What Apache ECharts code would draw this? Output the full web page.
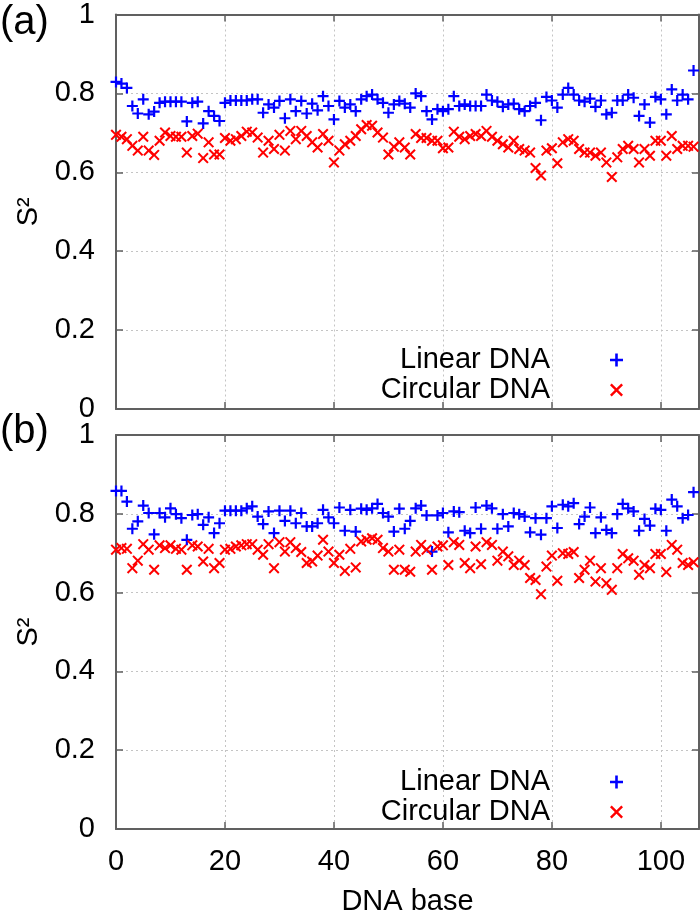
<!DOCTYPE html>
<html><head><meta charset="utf-8">
<script src="https://cdn.jsdelivr.net/npm/echarts@6/dist/echarts.min.js"></script>
<style>html,body{margin:0;padding:0;background:#fff}#c{width:700px;height:921px}</style>
</head><body><div id="c"></div>
<script>
const bases = [0,1,2,3,4,5,6,7,8,9,10,11,12,13,14,15,16,17,18,19,20,21,22,23,24,25,26,27,28,29,30,31,32,33,34,35,36,37,38,39,40,41,42,43,44,45,46,47,48,49,50,51,52,53,54,55,56,57,58,59,60,61,62,63,64,65,66,67,68,69,70,71,72,73,74,75,76,77,78,79,80,81,82,83,84,85,86,87,88,89,90,91,92,93,94,95,96,97,98,99,100,101,102,103,104,105,106];
const linearA = [.829,.825,.814,.768,.749,.785,.747,.754,.776,.779,.779,.779,.779,.729,.776,.779,.724,.755,.743,.730,.776,.782,.782,.782,.782,.785,.785,.751,.772,.764,.781,.737,.785,.755,.781,.749,.774,.757,.793,.768,.734,.781,.764,.772,.755,.785,.793,.797,.785,.776,.751,.772,.781,.774,.764,.800,.793,.755,.734,.760,.755,.760,.793,.768,.772,.768,.768,.768,.797,.782,.779,.766,.772,.774,.760,.755,.768,.776,.732,.791,.782,.764,.797,.814,.797,.782,.779,.787,.766,.782,.747,.751,.782,.782,.797,.789,.743,.772,.726,.791,.785,.747,.810,.782,.797,.785,.858];
const circularA = [.695,.690,.684,.667,.655,.690,.655,.644,.680,.701,.692,.690,.690,.650,.692,.698,.636,.676,.645,.645,.687,.680,.684,.692,.703,.701,.688,.650,.680,.659,.695,.655,.705,.684,.705,.692,.676,.663,.697,.680,.625,.655,.671,.680,.692,.709,.720,.718,.701,.688,.645,.665,.676,.663,.645,.697,.687,.687,.680,.680,.661,.663,.703,.690,.684,.692,.697,.692,.705,.690,.680,.671,.663,.680,.659,.655,.650,.611,.592,.655,.661,.623,.676,.684,.680,.659,.650,.650,.642,.650,.625,.588,.638,.659,.667,.659,.625,.659,.642,.680,.680,.642,.692,.659,.667,.667,.665];
const linearB = [.858,.858,.831,.762,.781,.821,.802,.748,.802,.791,.814,.799,.789,.734,.797,.799,.772,.791,.751,.776,.808,.808,.808,.808,.814,.819,.793,.774,.806,.751,.808,.782,.808,.776,.802,.768,.768,.776,.810,.791,.776,.816,.757,.810,.755,.813,.810,.814,.825,.802,.793,.755,.813,.762,.782,.814,.821,.796,.704,.796,.802,.753,.806,.804,.757,.751,.816,.762,.821,.814,.762,.799,.768,.802,.799,.793,.753,.789,.747,.789,.819,.764,.823,.819,.827,.774,.793,.816,.751,.791,.759,.751,.799,.825,.814,.806,.757,.787,.770,.813,.810,.757,.836,.819,.789,.797,.855];
const circularB = [.709,.713,.711,.662,.681,.723,.709,.658,.720,.713,.720,.711,.709,.658,.720,.717,.679,.711,.662,.675,.709,.711,.717,.720,.723,.723,.709,.696,.723,.662,.728,.704,.728,.713,.703,.675,.679,.694,.734,.704,.675,.696,.655,.711,.664,.730,.734,.738,.734,.713,.704,.658,.709,.658,.653,.704,.721,.709,.658,.717,.720,.670,.728,.721,.675,.662,.717,.672,.728,.721,.681,.704,.692,.670,.681,.670,.637,.632,.596,.666,.694,.630,.700,.698,.703,.637,.658,.681,.628,.662,.624,.607,.662,.698,.687,.681,.645,.670,.662,.698,.698,.652,.721,.709,.675,.670,.677];
const xTicks = [0,20,40,60,80,100];
const yTicks = [0,0.2,0.4,0.6,0.8,1];
const panelLabels = ['(a)','(b)'];
const seriesNames = ['Linear DNA','Circular DNA'];
const xName = 'DNA base';
const yName = 'S\u00B2';

const FONT = '"Liberation Sans", Arial, Helvetica, sans-serif';
const PLUS = 'path://M4,0H6V4H10V6H6V10H4V6H0V4H4Z';
const CROSS = 'path://M0,1.3L1.3,0L5,3.7L8.7,0L10,1.3L6.3,5L10,8.7L8.7,10L5,6.3L1.3,10L0,8.7L3.7,5Z';
const AX = '#606060';

const grids = [
  {left:116, top:13, width:583, height:396},
  {left:116, top:435, width:583, height:394}
];
const xMin = 0, xMax = 107;
const xInt = xTicks[1]-xTicks[0];
const yInt = yTicks[1]-yTicks[0];

function pairs(vals){ return bases.map((b,i)=>[b, vals[i]]); }

const xAxes = [], yAxes = [];
grids.forEach((g,gi)=>{
  const isBottom = gi === grids.length-1;
  xAxes.push({
    gridIndex:gi, type:'value', min:xMin, max:xMax, interval:xInt, position:'bottom',
    axisLine:{show:true, lineStyle:{color:AX, width:2}},
    axisTick:{show:true, inside:true, length:7, lineStyle:{color:AX, width:1.5}},
    splitLine:{show:true, lineStyle:{color:'#c4c4c4', type:[2,3], width:1}},
    axisLabel:{show:isBottom, showMaxLabel:false, fontSize:29, fontFamily:FONT, color:'#000', margin:18},
    name: isBottom ? xName : '', nameLocation:'middle', nameGap:58,
    nameTextStyle:{fontSize:29, fontFamily:FONT, color:'#000'}
  });
  xAxes.push({
    gridIndex:gi, type:'value', min:xMin, max:xMax, interval:xInt, position:'top',
    axisLine:{show:true, onZero:false, lineStyle:{color:AX, width:2}},
    axisTick:{show:true, inside:true, length:7, lineStyle:{color:AX, width:1.5}},
    splitLine:{show:false}, axisLabel:{show:false}
  });
  yAxes.push({
    gridIndex:gi, type:'value', min:yTicks[0], max:yTicks[yTicks.length-1], interval:yInt, position:'left',
    axisLine:{show:true, onZero:false, lineStyle:{color:AX, width:2}},
    axisTick:{show:true, inside:true, length:7, lineStyle:{color:AX, width:1.5}},
    splitLine:{show:true, lineStyle:{color:'#c4c4c4', type:[2,3], width:1}},
    axisLabel:{fontSize:29, fontFamily:FONT, color:'#000', margin:21},
    name:yName, nameLocation:'middle', nameGap:70,
    nameTextStyle:{fontSize:29, fontFamily:FONT, color:'#000'}
  });
  yAxes.push({
    gridIndex:gi, type:'value', min:yTicks[0], max:yTicks[yTicks.length-1], interval:yInt, position:'right',
    axisLine:{show:true, onZero:false, lineStyle:{color:AX, width:2}},
    axisTick:{show:true, inside:true, length:7, lineStyle:{color:AX, width:1.5}},
    splitLine:{show:false}, axisLabel:{show:false}
  });
});

const panelData = [[linearA, circularA],[linearB, circularB]];
const colors = ['#0000ff','#ff0000'];
const symbols = [PLUS, CROSS];
const series = [];
panelData.forEach((pd,gi)=>{
  pd.forEach((vals,si)=>{
    series.push({
      type:'scatter', name:seriesNames[si], xAxisIndex:gi*2, yAxisIndex:gi*2,
      data:pairs(vals), symbol:symbols[si], symbolSize:11, clip:false,
      itemStyle:{color:colors[si], opacity:1}, emphasis:{disabled:true}
    });
  });
});

const legendTops = [340, 762];
const legends = legendTops.map(t=>({
  orient:'vertical', right:77, top:t, align:'right', itemWidth:13, itemHeight:13, itemGap:0,
  selectedMode:false,
  textStyle:{fontSize:29, fontFamily:FONT, color:'#000', lineHeight:30, padding:[0,55,0,0]},
  data:seriesNames.map((n,i)=>({name:n, icon:symbols[i], itemStyle:{color:colors[i]}}))
}));
legends.forEach(l=>{ l.right = 72; });

const titleTops = [2, 411];
const titles = panelLabels.map((t,i)=>({
  text:t, left:0, top:titleTops[i], padding:0,
  textStyle:{fontSize:40, fontWeight:'normal', fontFamily:FONT, color:'#000', lineHeight:42}
}));

const chart = echarts.init(document.getElementById('c'), null, {renderer:'canvas'});
chart.setOption({
  animation:false, backgroundColor:'#fff',
  title:titles, legend:legends, grid:grids, xAxis:xAxes, yAxis:yAxes, series:series
});
</script></body></html>
